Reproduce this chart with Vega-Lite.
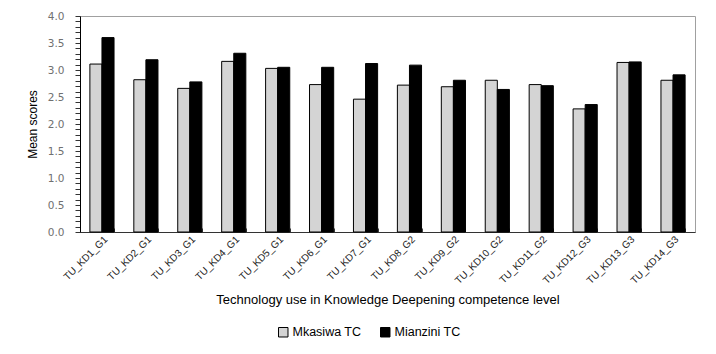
{
  "$schema": "https://vega.github.io/schema/vega-lite/v6.json",
  "width": 615,
  "height": 216,
  "autosize": {"type": "none"},
  "padding": {"left": 80, "top": 16, "right": 21, "bottom": 122},
  "background": "white",
  "config": {
    "view": {"stroke": "#a0a0a0", "strokeWidth": 1},
    "font": "Liberation Sans"
  },
  "data": {
    "values": [
      {"item": "TU_KD1_G1", "center": "Mkasiwa TC", "score": 3.11},
      {"item": "TU_KD1_G1", "center": "Mianzini TC", "score": 3.6},
      {"item": "TU_KD2_G1", "center": "Mkasiwa TC", "score": 2.82},
      {"item": "TU_KD2_G1", "center": "Mianzini TC", "score": 3.19},
      {"item": "TU_KD3_G1", "center": "Mkasiwa TC", "score": 2.66},
      {"item": "TU_KD3_G1", "center": "Mianzini TC", "score": 2.78},
      {"item": "TU_KD4_G1", "center": "Mkasiwa TC", "score": 3.16},
      {"item": "TU_KD4_G1", "center": "Mianzini TC", "score": 3.31},
      {"item": "TU_KD5_G1", "center": "Mkasiwa TC", "score": 3.03},
      {"item": "TU_KD5_G1", "center": "Mianzini TC", "score": 3.05},
      {"item": "TU_KD6_G1", "center": "Mkasiwa TC", "score": 2.73},
      {"item": "TU_KD6_G1", "center": "Mianzini TC", "score": 3.05},
      {"item": "TU_KD7_G1", "center": "Mkasiwa TC", "score": 2.46},
      {"item": "TU_KD7_G1", "center": "Mianzini TC", "score": 3.12},
      {"item": "TU_KD8_G2", "center": "Mkasiwa TC", "score": 2.72},
      {"item": "TU_KD8_G2", "center": "Mianzini TC", "score": 3.09},
      {"item": "TU_KD9_G2", "center": "Mkasiwa TC", "score": 2.69},
      {"item": "TU_KD9_G2", "center": "Mianzini TC", "score": 2.81},
      {"item": "TU_KD10_G2", "center": "Mkasiwa TC", "score": 2.81},
      {"item": "TU_KD10_G2", "center": "Mianzini TC", "score": 2.64},
      {"item": "TU_KD11_G2", "center": "Mkasiwa TC", "score": 2.73},
      {"item": "TU_KD11_G2", "center": "Mianzini TC", "score": 2.71},
      {"item": "TU_KD12_G3", "center": "Mkasiwa TC", "score": 2.28},
      {"item": "TU_KD12_G3", "center": "Mianzini TC", "score": 2.36},
      {"item": "TU_KD13_G3", "center": "Mkasiwa TC", "score": 3.14},
      {"item": "TU_KD13_G3", "center": "Mianzini TC", "score": 3.15},
      {"item": "TU_KD14_G3", "center": "Mkasiwa TC", "score": 2.81},
      {"item": "TU_KD14_G3", "center": "Mianzini TC", "score": 2.91}
    ]
  },
  "mark": {"type": "bar", "stroke": "#000000", "strokeWidth": 1},
  "encoding": {
    "x": {
      "field": "item",
      "type": "nominal",
      "sort": null,
      "scale": {"paddingInner": 0.45, "paddingOuter": 0.225},
      "axis": {
        "title": "Technology use in Knowledge Deepening competence level",
        "titleFont": "Liberation Sans",
        "titleFontSize": 13,
        "titleFontWeight": "normal",
        "titleColor": "#000000",
        "titlePadding": 8,
        "labelAngle": -45,
        "labelFont": "Liberation Sans",
        "labelFontSize": 10,
        "labelColor": "#222222",
        "labelPadding": 6,
        "tickBand": "extent",
        "tickSize": -4,
        "tickColor": "#444444",
        "domainColor": "#333333",
        "grid": false
      }
    },
    "xOffset": {"field": "center", "type": "nominal", "sort": ["Mkasiwa TC", "Mianzini TC"]},
    "y": {
      "field": "score",
      "type": "quantitative",
      "scale": {"domain": [0, 4], "nice": false},
      "axis": {
        "title": "Mean scores",
        "titleFont": "Liberation Sans",
        "titleFontSize": 12,
        "titleFontWeight": "normal",
        "titleColor": "#000000",
        "titlePadding": 8,
        "values": [0,0.1,0.2,0.3,0.4,0.5,0.6,0.7,0.8,0.9,1,1.1,1.2,1.3,1.4,1.5,1.6,1.7,1.8,1.9,2,2.1,2.2,2.3,2.4,2.5,2.6,2.7,2.8,2.9,3,3.1,3.2,3.3,3.4,3.5,3.6,3.7,3.8,3.9,4],
        "labelExpr": "abs(datum.value * 2 - round(datum.value * 2)) < 0.001 ? format(datum.value, '.1f') : ''",
        "labelOverlap": false,
        "labelFont": "DejaVu Sans",
        "labelFontSize": 10.5,
        "labelColor": "#707070",
        "labelPadding": 11,
        "tickSize": 5,
        "tickColor": "#333333",
        "domainColor": "#000000",
        "grid": false
      }
    },
    "color": {
      "field": "center",
      "type": "nominal",
      "scale": {"domain": ["Mkasiwa TC", "Mianzini TC"], "range": ["#d4d4d4", "#000000"]},
      "legend": {
        "orient": "none",
        "legendX": 197,
        "legendY": 310,
        "direction": "horizontal",
        "title": null,
        "padding": 0,
        "symbolType": "square",
        "symbolSize": 90,
        "symbolStrokeColor": "#000000",
        "symbolStrokeWidth": 1,
        "labelFont": "Liberation Sans",
        "labelFontSize": 12.5,
        "labelColor": "#000000",
        "labelOffset": 3,
        "columnPadding": 16
      }
    }
  }
}
